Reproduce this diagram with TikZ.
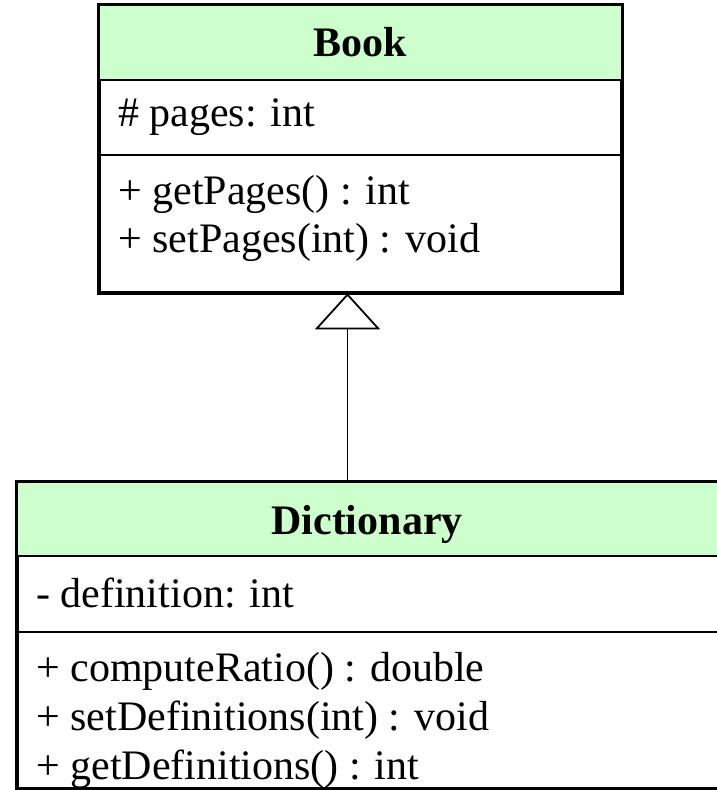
\documentclass[tikz,border=0pt]{standalone}
\usepackage{fontspec}
\setmainfont{Liberation Serif}
\usetikzlibrary{arrows.meta}
\definecolor{hdrgreen}{HTML}{CCFFCC}
\begin{document}
\begin{tikzpicture}[x=1pt,y=-1pt,
  classbox/.style={draw=black,line width=2.6pt,fill=white},
  sepline/.style={line width=2.6pt},
  member/.style={anchor=base west,inner sep=0pt,font=\fontsize{42}{48}\selectfont},
  title/.style={anchor=base,inner sep=0pt,font=\fontsize{42}{48}\selectfont\bfseries},
  gen/.style={line width=1.8pt,-{Triangle[open,length=36pt,width=65pt,line width=1.8pt]}}]
\useasboundingbox (0,0) rectangle (717,790);
\clip (0,0) rectangle (717,790);
% Book
\node[classbox,minimum width=521pt,minimum height=286pt,inner sep=0pt] (book) at (360.5,149) {};
\fill[hdrgreen] (100,6) rectangle (621,80);
\draw[sepline] (100,80) -- (621,80);
\draw[sepline] (100,155) -- (621,155);
\draw[line width=2.6pt] (book.south west) rectangle (book.north east);
\node[title] (booktitle) at (360.5,56) {Book};
\node[member] (bookattr) at (118,126) {\# pages: int};
\node[member] (bookm1) at (118,204) {+ getPages() : int};
\node[member] (bookm2) at (118,252) {+ setPages(int) : void};
% Dictionary
\node[classbox,minimum width=722pt,minimum height=305pt,inner sep=0pt] (dict) at (379,635.5) {};
\fill[hdrgreen] (18,483) rectangle (740,556);
\draw[sepline] (18,556) -- (740,556);
\draw[sepline] (18,632) -- (740,632);
\draw[line width=2.6pt] (dict.south west) rectangle (dict.north east);
\node[title] (dicttitle) at (367,534) {Dictionary};
\node[member] (dictattr) at (36,607) {- definition: int};
\node[member] (dictm1) at (36,681) {+ computeRatio() : double};
\node[member] (dictm2) at (36,730) {+ setDefinitions(int) : void};
\node[member] (dictm3) at (36,779) {+ getDefinitions() : int};
% Generalization
\coordinate (apex) at (347.5,0);
\draw[gen] (dict.north -| apex) -- (book.south -| apex);
\end{tikzpicture}
\end{document}
